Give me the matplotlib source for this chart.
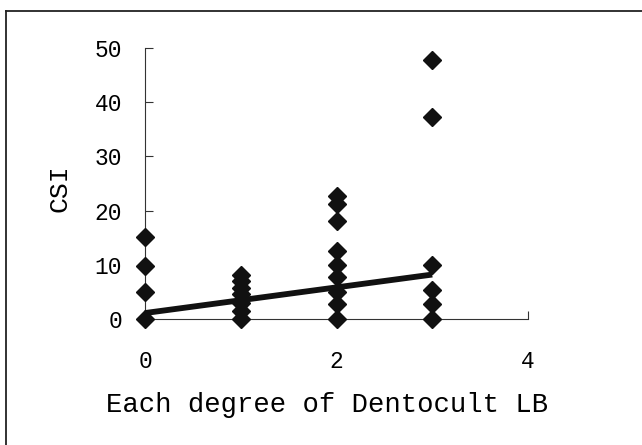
import matplotlib
matplotlib.use("Agg")
import matplotlib.pyplot as plt
from matplotlib.lines import Line2D

# Data
x_deg0 = [0, 0, 0, 0]
y_deg0 = [0, 5.0, 9.8, 15.2]
x_deg1 = [1, 1, 1, 1, 1, 1, 1]
y_deg1 = [0, 1.5, 3.0, 4.6, 5.8, 7.1, 8.2]
x_deg2 = [2, 2, 2, 2, 2, 2, 2, 2, 2]
y_deg2 = [0, 2.8, 5.0, 7.8, 10.0, 12.5, 18.0, 21.3, 22.7]
x_deg3 = [3, 3, 3, 3, 3, 3]
y_deg3 = [0, 2.8, 5.4, 10.0, 37.3, 47.7]
trend_x = [0, 3]
trend_y = [1.1, 8.2]

xticks = [0, 2, 4]
yticks = [0, 10, 20, 30, 40, 50]
xlabel = "Each degree of Dentocult LB"
ylabel = "CSI"

font = "Liberation Mono"

fig = plt.figure(figsize=(6.42, 4.45), dpi=100)
ax = fig.add_axes([145/642, (445-319)/445, (528-145)/642, (319-48)/445])

xs = x_deg0 + x_deg1 + x_deg2 + x_deg3
ys = y_deg0 + y_deg1 + y_deg2 + y_deg3
ax.plot(xs, ys, linestyle="none", marker="D", markersize=9.6,
        color="#111111", clip_on=False, zorder=3)
ax.plot(trend_x, trend_y, color="#111111", linewidth=4.2,
        solid_capstyle="butt", zorder=4, clip_on=False)

ax.set_xlim(0, 4)
ax.set_ylim(0, 50)
ax.set_xticks(xticks)
ax.set_yticks(yticks)
ax.set_xticklabels([str(t) for t in xticks], fontfamily=font, fontsize=16.5)
ax.set_yticklabels([str(t) for t in yticks], fontfamily=font, fontsize=16.5)
ax.tick_params(axis="both", direction="in", length=5.5, width=0.8, color="#333333")
ax.tick_params(axis="y", pad=16.5)
ax.tick_params(axis="x", pad=22)

for s in ["top", "right"]:
    ax.spines[s].set_visible(False)
for s in ["left", "bottom"]:
    ax.spines[s].set_linewidth(0.8)
    ax.spines[s].set_color("#333333")

fig.text(327.5/642, 33/445, xlabel, fontfamily=font, fontsize=19.6,
         ha="center", va="baseline")
fig.text(59.5/642, (445-187.7)/445, ylabel, fontfamily=font, fontsize=19,
         ha="center", va="center", rotation=90)

# outer frame (top and left edges visible)
fig.add_artist(Line2D([6/642, 1.0], [1-11/445, 1-11/445], transform=fig.transFigure,
                      color="#222222", linewidth=1.3))
fig.add_artist(Line2D([6/642, 6/642], [0, 1-11/445], transform=fig.transFigure,
                      color="#222222", linewidth=1.3))

fig.savefig("out.png", dpi=100)
